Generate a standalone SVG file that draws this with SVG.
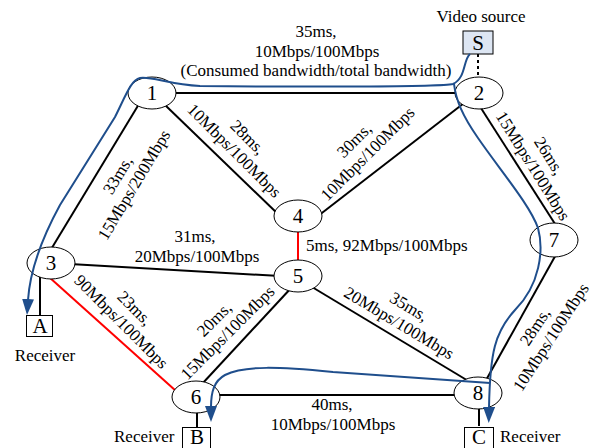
<svg xmlns="http://www.w3.org/2000/svg" width="593" height="448" viewBox="0 0 593 448">
<style>
text{font-family:"Liberation Serif","Times New Roman",serif;fill:#000}
.lb{font-size:17px}
.nd{font-size:21px;text-anchor:middle}
.e{stroke:#000;stroke-width:2;fill:none}
.r{stroke:#ff0000;stroke-width:2;fill:none}
.n{fill:#fff;stroke:#000;stroke-width:1}
.bx{fill:#fff;stroke:#000;stroke-width:1}
.fl{stroke:#1f4e8c;stroke-width:2;fill:none;marker-end:url(#ah)}
.c{text-anchor:middle}
</style>
<defs>
<marker id="ah" viewBox="0 0 16 12" refX="1" refY="6" markerWidth="16" markerHeight="12" markerUnits="userSpaceOnUse" orient="auto">
<path d="M0,0 L16,6 L0,12 z" fill="#1f4e8c"/>
</marker>
</defs>
<g id="connectors">
<line class="e" x1="170" y1="93" x2="460" y2="93"/>
<line class="e" x1="139" y1="104" x2="50" y2="251"/>
<line class="e" x1="164" y1="104" x2="279" y2="215"/>
<line class="e" x1="468" y1="100" x2="318" y2="216"/>
<line class="e" x1="479" y1="105" x2="557" y2="227"/>
<line class="r" x1="298" y1="230" x2="298" y2="262"/>
<line class="e" x1="70" y1="264" x2="280" y2="276"/>
<line class="r" x1="49" y1="277" x2="176" y2="391"/>
<line class="e" x1="202" y1="384" x2="292" y2="287"/>
<line class="e" x1="312" y1="287" x2="470" y2="382"/>
<line class="e" x1="215" y1="395" x2="460" y2="395"/>
<line class="e" x1="558" y1="251" x2="485" y2="382"/>
<line class="e" x1="40" y1="275" x2="40" y2="315"/>
<line class="e" x1="197" y1="410" x2="197" y2="427"/>
<line class="e" x1="479" y1="405" x2="479" y2="426"/>
<line class="e" x1="478" y1="54" x2="478" y2="77" stroke-dasharray="3,3"/>
</g>
<g id="labels">
<text class="lb c" x="316" y="37">35ms,</text>
<text class="lb c" x="317" y="57">10Mbps/100Mbps</text>
<text class="lb c" x="316" y="76">(Consumed bandwidth/total bandwidth)</text>
<g transform="translate(126,180) rotate(-59)"><text class="lb c" y="-4">33ms,</text><text class="lb c" y="15">15Mbps/200Mbps</text></g>
<g transform="translate(241,144) rotate(45)"><text class="lb c" y="-4">28ms,</text><text class="lb c" y="15">10Mbps/100Mbps</text></g>
<g transform="translate(361,147) rotate(-45)"><text class="lb c" y="-4">30ms,</text><text class="lb c" y="15">10Mbps/100Mbps</text></g>
<g transform="translate(541,161) rotate(58)"><text class="lb c" y="-4">26ms,</text><text class="lb c" y="15">15Mbps/100Mbps</text></g>
<g transform="translate(543,332) rotate(-57)"><text class="lb c" y="-4">28ms,</text><text class="lb c" y="15">10Mbps/100Mbps</text></g>
<g transform="translate(128,315) rotate(45)"><text class="lb c" y="-4">23ms,</text><text class="lb c" y="15">90Mbps/100Mbps</text></g>
<g transform="translate(221,326) rotate(-45)"><text class="lb c" y="-4">20ms,</text><text class="lb c" y="15">15Mbps/100Mbps</text></g>
<g transform="translate(404,315) rotate(31)"><text class="lb c" y="-4">35ms,</text><text class="lb c" y="15">20Mbps/100Mbps</text></g>
<text class="lb c" x="195" y="242">31ms,</text>
<text class="lb c" x="197" y="262">20Mbps/100Mbps</text>
<text class="lb" x="306" y="251">5ms, 92Mbps/100Mbps</text>
<text class="lb c" x="332" y="410">40ms,</text>
<text class="lb c" x="333" y="430">10Mbps/100Mbps</text>
<text class="lb c" x="481" y="22">Video source</text>
<text class="lb c" x="45" y="361">Receiver</text>
<text class="lb" x="114" y="442">Receiver</text>
<text class="lb" x="500" y="442">Receiver</text>
</g>
<g id="node1"><ellipse class="n" cx="152" cy="93" rx="24" ry="16"/><text class="nd" x="152" y="100">1</text></g>
<g id="node2"><ellipse class="n" cx="479" cy="93" rx="24" ry="16"/><text class="nd" x="479" y="100">2</text></g>
<g id="node3"><ellipse class="n" cx="51" cy="263" rx="24" ry="16"/><text class="nd" x="51" y="270">3</text></g>
<g id="node4"><ellipse class="n" cx="298" cy="216" rx="24" ry="16"/><text class="nd" x="298" y="223">4</text></g>
<g id="node5"><ellipse class="n" cx="298" cy="276" rx="24" ry="16"/><text class="nd" x="298" y="283">5</text></g>
<g id="node6"><ellipse class="n" cx="196" cy="397" rx="24" ry="16"/><text class="nd" x="196" y="404">6</text></g>
<g id="node7"><ellipse class="n" cx="554" cy="240" rx="24" ry="17"/><text class="nd" x="554" y="247">7</text></g>
<g id="node8"><ellipse class="n" cx="478" cy="393" rx="24" ry="16"/><text class="nd" x="478" y="400">8</text></g>
<g id="nodeS"><rect x="463" y="31" width="30" height="23" fill="#dde6f3" stroke="#000" stroke-width="1"/><text class="nd" x="478" y="50">S</text></g>
<g id="nodeA"><rect class="bx" x="26.5" y="315.5" width="26" height="21"/><text class="nd" x="40" y="333">A</text></g>
<g id="nodeB"><rect class="bx" x="182.5" y="427.5" width="28" height="22"/><text class="nd" x="197" y="444" font-size="20">B</text></g>
<g id="nodeC"><rect class="bx" x="464.5" y="427.5" width="29" height="22"/><text class="nd" x="479" y="444" font-size="20">C</text></g>
<g id="flows">
<path class="fl" d="M470,54 C463,60 466,78 453,84 C440,87 300,87 200,86 C170,85 152,76 140,78 C131,80 126,95 115,117 L60,205 C42,238 30,270 28,300"/>
<path class="fl" d="M454,84 C456,100 462,115 478,138 C500,170 530,205 538,228 C544,250 540,285 515,310 C495,332 490,352 489,408"/>
<path class="fl" d="M490,383 C460,381 420,378 333,372 C280,367 245,365 225,375 C214,381 211,392 211,407"/>
</g>
</svg>
